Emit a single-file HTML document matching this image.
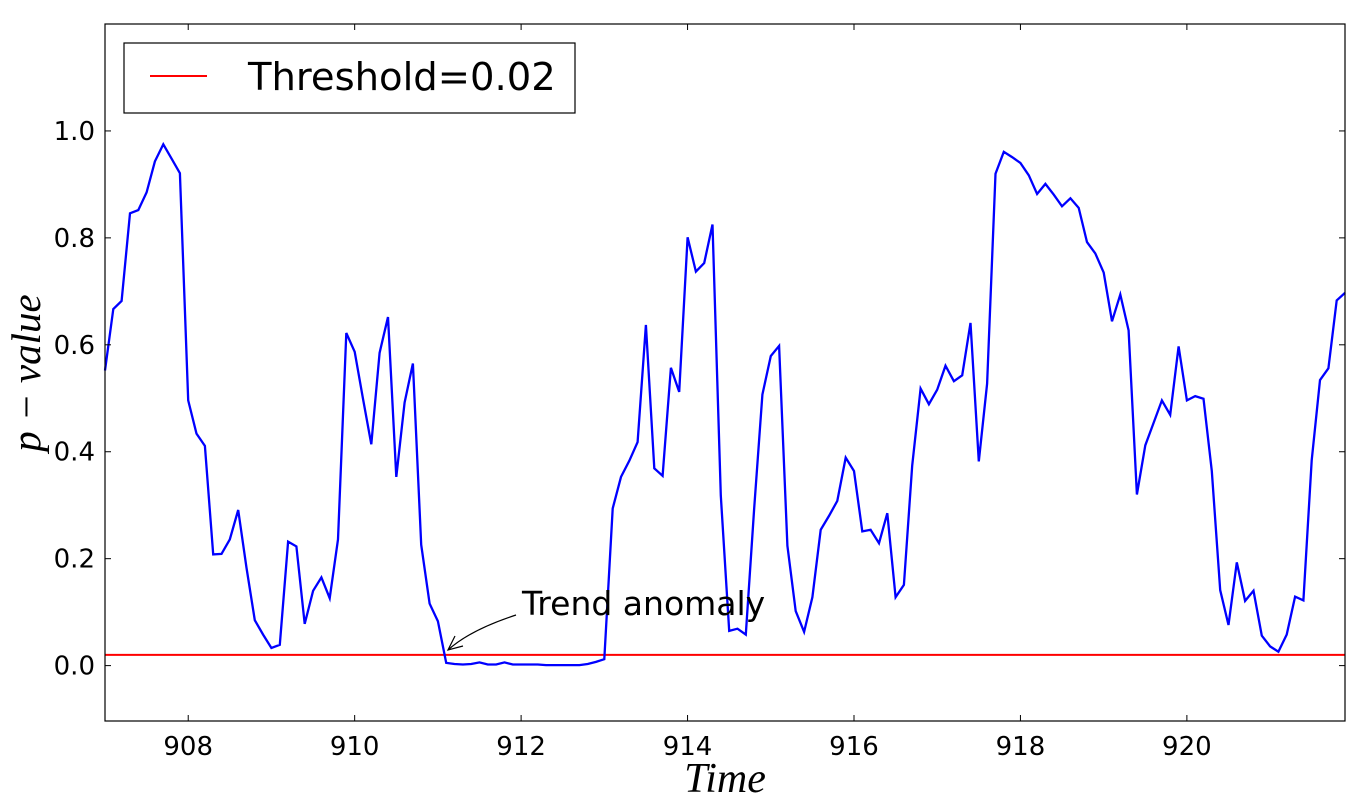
<!DOCTYPE html>
<html><head><meta charset="utf-8"><style>
html,body{margin:0;padding:0;background:#fff;}
svg{display:block;}
</style></head><body>
<svg id="chart" width="1354" height="810" xmlns="http://www.w3.org/2000/svg" style="font-family:'DejaVu Sans','Liberation Sans',sans-serif"></svg>
<script>
const xStart = 907.0;
const xStep = 0.1;
const pValues = [
0.552,0.667,0.682,0.846,0.852,0.885,0.943,0.975,0.948,0.921,
0.496,0.434,0.411,0.208,0.209,0.236,0.291,0.183,0.085,0.058,
0.033,0.039,0.232,0.223,0.078,0.140,0.165,0.126,0.236,0.622,
0.587,0.499,0.414,0.585,0.652,0.353,0.492,0.565,0.226,0.116,
0.083,0.005,0.003,0.002,0.003,0.006,0.002,0.002,0.006,0.002,
0.002,0.002,0.002,0.001,0.001,0.001,0.001,0.001,0.003,0.007,
0.012,0.294,0.353,0.383,0.418,0.637,0.369,0.355,0.557,0.512,
0.801,0.737,0.753,0.825,0.318,0.065,0.069,0.058,0.292,0.507,
0.579,0.598,0.224,0.102,0.063,0.128,0.254,0.280,0.308,0.389,
0.364,0.251,0.254,0.229,0.285,0.128,0.151,0.374,0.518,0.489,
0.516,0.561,0.532,0.543,0.641,0.382,0.527,0.920,0.961,0.951,
0.940,0.917,0.882,0.901,0.881,0.859,0.874,0.856,0.792,0.771,
0.735,0.644,0.694,0.627,0.320,0.412,0.454,0.496,0.469,0.597,
0.496,0.504,0.499,0.364,0.141,0.076,0.193,0.121,0.140,0.056,
0.036,0.026,0.058,0.129,0.122,0.384,0.534,0.556,0.683,0.697
];
const xTicks = [908,910,912,914,916,918,920];
const yTicks = [0.0,0.2,0.4,0.6,0.8,1.0];
const threshold = [0.02];

const NS="http://www.w3.org/2000/svg";
const svg=document.getElementById('chart');
const L=105,R=1345,T=24,B=721;
const xMin=907,xMax=921.9,yMin=-0.1036,yMax=1.2;
function xs(v){return L+(v-xMin)/(xMax-xMin)*(R-L);}
function ys(v){return B-(v-yMin)/(yMax-yMin)*(B-T);}
function mk(tag,attrs,parent){const e=document.createElementNS(NS,tag);for(const k in attrs)e.setAttribute(k,attrs[k]);(parent||svg).appendChild(e);return e;}

const th=mk('line',{x1:L,x2:R,y1:ys(threshold[0]),y2:ys(threshold[0]),stroke:'#ff0000','stroke-width':2});



let d='';
pValues.forEach((v,i)=>{const x=xs(xStart+i*xStep),y=ys(v);d+=(i?'L':'M')+x.toFixed(1)+' '+y.toFixed(1);});
const ln=mk('path',{d:d,fill:'none',stroke:'#0000ff','stroke-width':2.3,'stroke-linejoin':'miter'});



const fr=mk('rect',{x:L,y:T,width:R-L,height:B-T,fill:'none',stroke:'#000','stroke-width':1.2});



xTicks.forEach(t=>{
  const x=xs(t);
  mk('line',{x1:x,x2:x,y1:B,y2:B-6,stroke:'#000','stroke-width':1});
  mk('line',{x1:x,x2:x,y1:T,y2:T+6,stroke:'#000','stroke-width':1});
  const tx=mk('text',{x:x,y:B+34,'font-size':26,'text-anchor':'middle',fill:'#000'});
  tx.textContent=String(t);
  
  
});
yTicks.forEach(t=>{
  const y=ys(t);
  mk('line',{x1:L,x2:L+6,y1:y,y2:y,stroke:'#000','stroke-width':1});
  mk('line',{x1:R,x2:R-6,y1:y,y2:y,stroke:'#000','stroke-width':1});
  const tx=mk('text',{x:L-10,y:y+9,'font-size':26,'text-anchor':'end',fill:'#000'});
  tx.textContent=t.toFixed(1);
  
  
});
</script>
<svg style="position:absolute;left:0;top:0;font-family:'DejaVu Sans','Liberation Sans',sans-serif" width="1354" height="810" xmlns="http://www.w3.org/2000/svg">
  <g>
    <rect x="124" y="43" width="451" height="70" fill="#fff" stroke="#000" stroke-width="1.2"/>
    <line x1="150" y1="76" x2="207" y2="76" stroke="#ff0000" stroke-width="2"/>
    <text x="248" y="90" font-size="38.5" fill="#000">Threshold=0.02</text>
  </g>
  <g>
    <text x="522" y="615" font-size="33" fill="#000">Trend anomaly</text>
    <path d="M516 615 Q470 630 448 650" fill="none" stroke="#000" stroke-width="1.2"/>
    <path d="M455 636 L448 650 L463 646" fill="none" stroke="#000" stroke-width="1.2"/>
  </g>
  <text x="725" y="792" font-size="42" text-anchor="middle" style="font-family:'Liberation Serif','DejaVu Serif',serif;font-style:italic">Time</text>
  <text transform="translate(40,373) rotate(-90)" font-size="41" text-anchor="middle" style="font-family:'Liberation Serif','DejaVu Serif',serif;font-style:italic">p − value</text>
</svg>
</body></html>
